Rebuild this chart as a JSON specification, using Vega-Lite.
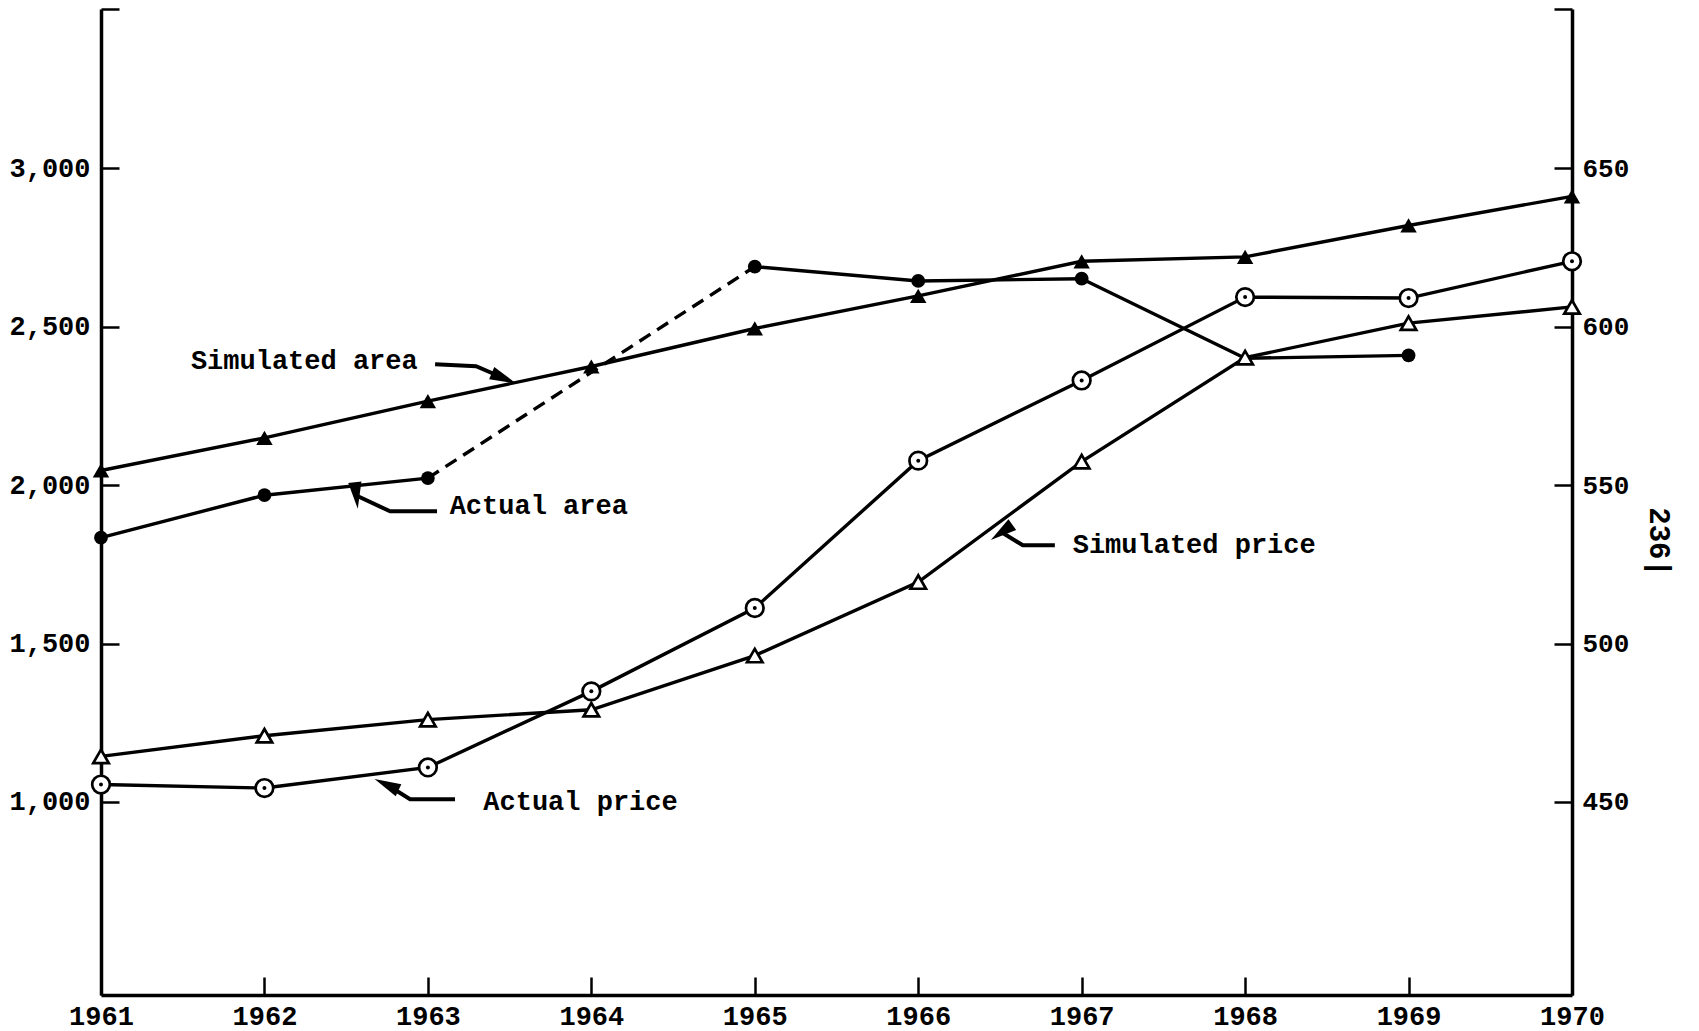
{
  "$schema": "https://vega.github.io/schema/vega-lite/v6.json",
  "width": 1471,
  "height": 986,
  "autosize": {"type": "none"},
  "padding": {"left": 101, "top": 9, "right": 127, "bottom": 36},
  "background": "white",
  "config": {
    "view": {"stroke": null},
    "axis": {"labelFont": "Liberation Mono", "labelFontWeight": "bold", "labelColor": "black", "domainColor": "black", "tickColor": "black", "grid": false, "title": null}
  },
  "datasets": {
    "series": [
      {"year": 1961, "series": "Simulated area", "value": 2046},
      {"year": 1962, "series": "Simulated area", "value": 2149},
      {"year": 1963, "series": "Simulated area", "value": 2265},
      {"year": 1964, "series": "Simulated area", "value": 2374},
      {"year": 1965, "series": "Simulated area", "value": 2494},
      {"year": 1966, "series": "Simulated area", "value": 2597},
      {"year": 1967, "series": "Simulated area", "value": 2706},
      {"year": 1968, "series": "Simulated area", "value": 2720},
      {"year": 1969, "series": "Simulated area", "value": 2819},
      {"year": 1970, "series": "Simulated area", "value": 2911},
      {"year": 1961, "series": "Actual area", "value": 1834},
      {"year": 1962, "series": "Actual area", "value": 1968},
      {"year": 1963, "series": "Actual area", "value": 2022},
      {"year": 1965, "series": "Actual area", "value": 2689},
      {"year": 1966, "series": "Actual area", "value": 2644},
      {"year": 1967, "series": "Actual area", "value": 2651},
      {"year": 1968, "series": "Actual area", "value": 2400},
      {"year": 1969, "series": "Actual area", "value": 2409},
      {"year": 1961, "series": "Simulated price", "value": 464.4},
      {"year": 1962, "series": "Simulated price", "value": 470.9},
      {"year": 1963, "series": "Simulated price", "value": 476.0},
      {"year": 1964, "series": "Simulated price", "value": 479.1},
      {"year": 1965, "series": "Simulated price", "value": 496.2},
      {"year": 1966, "series": "Simulated price", "value": 519.4},
      {"year": 1967, "series": "Simulated price", "value": 557.4},
      {"year": 1968, "series": "Simulated price", "value": 590.2},
      {"year": 1969, "series": "Simulated price", "value": 601.1},
      {"year": 1970, "series": "Simulated price", "value": 606.2},
      {"year": 1961, "series": "Actual price", "value": 455.5},
      {"year": 1962, "series": "Actual price", "value": 454.4},
      {"year": 1963, "series": "Actual price", "value": 460.9},
      {"year": 1964, "series": "Actual price", "value": 484.9},
      {"year": 1965, "series": "Actual price", "value": 511.2},
      {"year": 1966, "series": "Actual price", "value": 557.7},
      {"year": 1967, "series": "Actual price", "value": 583.0},
      {"year": 1968, "series": "Actual price", "value": 609.3},
      {"year": 1969, "series": "Actual price", "value": 609.0},
      {"year": 1970, "series": "Actual price", "value": 620.6}
    ],
    "arrows": [
      {"arrow": "Simulated area", "step": 1, "year": 1963.044, "value": 2381},
      {"arrow": "Simulated area", "step": 2, "year": 1963.295, "value": 2375},
      {"arrow": "Simulated area", "step": 3, "year": 1963.465, "value": 2337},
      {"arrow": "Actual area", "step": 1, "year": 1963.056, "value": 1917},
      {"arrow": "Actual area", "step": 2, "year": 1962.769, "value": 1917},
      {"arrow": "Actual area", "step": 3, "year": 1962.562, "value": 1967},
      {"arrow": "Simulated price", "step": 1, "year": 1966.836, "value": 1810},
      {"arrow": "Simulated price", "step": 2, "year": 1966.640, "value": 1810},
      {"arrow": "Simulated price", "step": 3, "year": 1966.510, "value": 1851},
      {"arrow": "Actual price", "step": 1, "year": 1963.166, "value": 1009},
      {"arrow": "Actual price", "step": 2, "year": 1962.891, "value": 1009},
      {"arrow": "Actual price", "step": 3, "year": 1962.747, "value": 1055}
    ],
    "heads": [
      {"arrow": "Simulated area", "year": 1963.465, "value": 2337},
      {"arrow": "Actual area", "year": 1962.562, "value": 1967},
      {"arrow": "Simulated price", "year": 1966.510, "value": 1851},
      {"arrow": "Actual price", "year": 1962.747, "value": 1055}
    ],
    "labels": [
      {"text": "Simulated area", "year": 1961.550, "value": 2391},
      {"text": "Actual area", "year": 1963.133, "value": 1933},
      {"text": "Simulated price", "year": 1966.945, "value": 1810},
      {"text": "Actual price", "year": 1963.339, "value": 1000}
    ],
    "page": [
      {"text": "236|", "year": 1970.531, "value": 1820}
    ]
  },
  "layer": [
    {
      "encoding": {
        "x": {"field": "year", "type": "quantitative", "scale": {"domain": [1961, 1970], "nice": false, "zero": false},
          "axis": {"values": [1961, 1962, 1963, 1964, 1965, 1966, 1967, 1968, 1969, 1970], "format": "d", "tickSize": -18, "tickWidth": 2.5, "domainWidth": 3.5, "labelFontSize": 27, "labelPadding": 26, "labelAngle": 0, "labelFlush": false, "labelOverlap": false}},
        "y": {"field": "value", "type": "quantitative", "scale": {"domain": [391, 3502], "nice": false, "zero": false},
          "axis": {"orient": "left", "values": [1000, 1500, 2000, 2500, 3000, 3502], "labelExpr": "datum.value > 3100 ? '' : format(datum.value, ',')", "tickSize": -18, "tickWidth": 2.5, "domainWidth": 3.5, "labelFontSize": 27, "labelPadding": 29, "labelOverlap": false}}
      },
      "layer": [
        {"data": {"name": "series"}, "transform": [{"filter": "datum.series == 'Simulated area'"}],
          "mark": {"type": "line", "color": "black", "strokeWidth": 3.4}},
        {"data": {"name": "series"}, "transform": [
            {"filter": "datum.series == 'Actual area'"},
            {"window": [{"op": "lead", "field": "year", "as": "year2"}, {"op": "lead", "field": "value", "as": "value2"}], "sort": [{"field": "year"}]},
            {"filter": "datum.year2 != null && datum.year2 - datum.year == 1"}],
          "mark": {"type": "rule", "color": "black", "strokeWidth": 3.4, "strokeCap": "round"},
          "encoding": {"x2": {"field": "year2"}, "y2": {"field": "value2"}}},
        {"data": {"name": "series"}, "transform": [
            {"filter": "datum.series == 'Actual area'"},
            {"window": [{"op": "lead", "field": "year", "as": "year2"}, {"op": "lead", "field": "value", "as": "value2"}], "sort": [{"field": "year"}]},
            {"filter": "datum.year2 != null && datum.year2 - datum.year > 1"}],
          "mark": {"type": "rule", "color": "black", "strokeWidth": 3.4, "strokeDash": [13, 8]},
          "encoding": {"x2": {"field": "year2"}, "y2": {"field": "value2"}}},
        {"data": {"name": "arrows"},
          "mark": {"type": "line", "color": "black", "strokeWidth": 4},
          "encoding": {"detail": {"field": "arrow"}, "order": {"field": "step"}}},
        {"data": {"name": "heads"},
          "mark": {"type": "point", "shape": "M0,-1L0.5,1L-0.5,1Z", "filled": true, "color": "black", "size": 700, "strokeWidth": 0, "opacity": 1},
          "encoding": {"angle": {"field": "arrow", "type": "nominal", "scale": {"domain": ["Simulated area", "Actual area", "Simulated price", "Actual price"], "range": [113, 295, 301, 302]}, "legend": null}}},
        {"data": {"name": "series"}, "transform": [{"filter": "datum.series == 'Simulated area'"}],
          "mark": {"type": "point", "shape": "triangle-up", "filled": true, "color": "black", "size": 270, "opacity": 1}},
        {"data": {"name": "series"}, "transform": [{"filter": "datum.series == 'Actual area' && datum.year != 1968"}],
          "mark": {"type": "circle", "color": "black", "size": 190, "opacity": 1}},
        {"data": {"name": "labels"},
          "mark": {"type": "text", "align": "left", "baseline": "middle", "font": "Liberation Mono", "fontSize": 27, "fontWeight": "bold", "color": "black"},
          "encoding": {"text": {"field": "text"}}},
        {"data": {"name": "page"},
          "mark": {"type": "text", "align": "center", "baseline": "middle", "angle": 90, "font": "Liberation Mono", "fontSize": 29, "fontWeight": "bold", "color": "black"},
          "encoding": {"text": {"field": "text"}}}
      ]
    },
    {
      "encoding": {
        "x": {"field": "year", "type": "quantitative", "scale": {"domain": [1961, 1970], "nice": false, "zero": false},
          "axis": {"values": [1961, 1962, 1963, 1964, 1965, 1966, 1967, 1968, 1969, 1970], "format": "d", "tickSize": -18, "tickWidth": 2.5, "domainWidth": 3.5, "labelFontSize": 27, "labelPadding": 26, "labelAngle": 0, "labelFlush": false, "labelOverlap": false}},
        "y": {"field": "value", "type": "quantitative", "scale": {"domain": [389.1, 700.2], "nice": false, "zero": false},
          "axis": {"orient": "right", "values": [450, 500, 550, 600, 650, 700.2], "labelExpr": "datum.value > 690 ? '' : format(datum.value, 'd')", "tickSize": -18, "tickWidth": 2.5, "domainWidth": 3.5, "labelFontSize": 26, "labelPadding": 28, "labelOverlap": false}}
      },
      "layer": [
        {"data": {"name": "series"}, "transform": [{"filter": "datum.series == 'Simulated price' || datum.series == 'Actual price'"}],
          "mark": {"type": "line", "color": "black", "strokeWidth": 3.4},
          "encoding": {"detail": {"field": "series"}}},
        {"data": {"name": "series"}, "transform": [{"filter": "datum.series == 'Simulated price'"}],
          "mark": {"type": "point", "shape": "triangle-up", "filled": true, "fill": "white", "stroke": "black", "strokeWidth": 2.7, "size": 240, "opacity": 1}},
        {"data": {"name": "series"}, "transform": [{"filter": "datum.series == 'Actual price'"}],
          "mark": {"type": "point", "shape": "circle", "filled": true, "fill": "white", "stroke": "black", "strokeWidth": 2.7, "size": 310, "opacity": 1}},
        {"data": {"name": "series"}, "transform": [{"filter": "datum.series == 'Actual price'"}],
          "mark": {"type": "circle", "color": "black", "size": 16, "opacity": 1}}
      ]
    }
  ],
  "resolve": {"scale": {"y": "independent"}, "axis": {"y": "independent"}}
}
